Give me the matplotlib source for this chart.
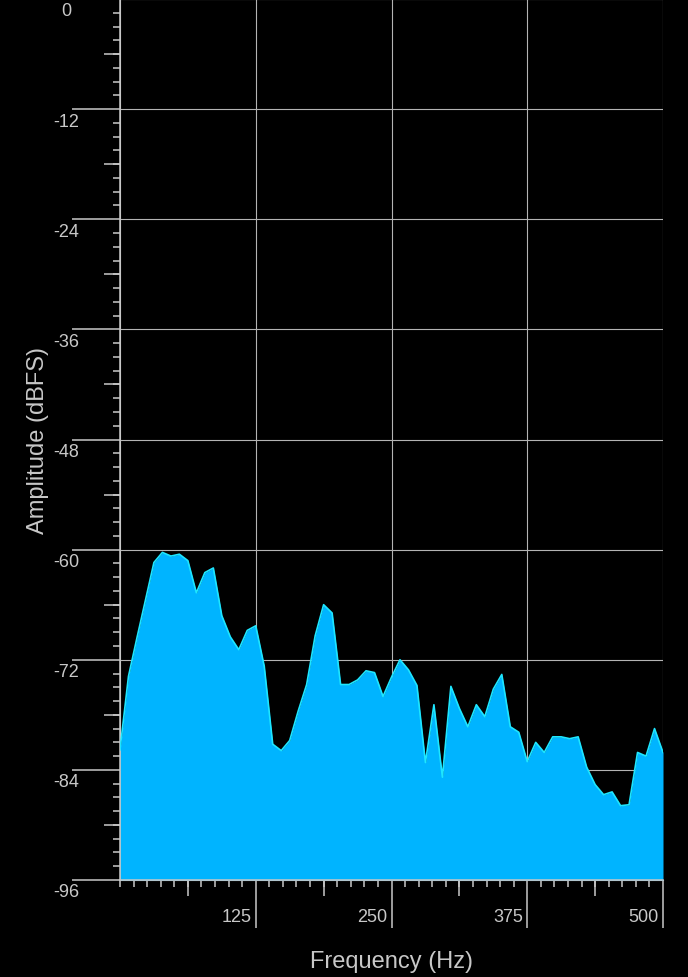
import matplotlib
matplotlib.use("Agg")
import matplotlib.pyplot as plt
import matplotlib.transforms as mtrans
from matplotlib.ticker import MultipleLocator, FixedLocator, NullLocator

# FFT bins, 8 kHz / 1024 points -> 7.8125 Hz per bin, 0..500 Hz
freq_hz = [0.0, 7.81, 15.63, 23.44, 31.25, 39.06, 46.88, 54.69, 62.5, 70.31,
           78.13, 85.94, 93.75, 101.56, 109.38, 117.19, 125.0, 132.81, 140.63, 148.44,
           156.25, 164.06, 171.88, 179.69, 187.5, 195.31, 203.13, 210.94, 218.75, 226.56,
           234.38, 242.19, 250.0, 257.81, 265.63, 273.44, 281.25, 289.06, 296.88, 304.69,
           312.5, 320.31, 328.13, 335.94, 343.75, 351.56, 359.38, 367.19, 375.0, 382.81,
           390.63, 398.44, 406.25, 414.06, 421.88, 429.69, 437.5, 445.31, 453.13, 460.94,
           468.75, 476.56, 484.38, 492.19, 500.0]

amplitude_db = [-81.8, -73.8, -69.6, -65.5, -61.4, -60.3, -60.7, -60.5, -61.2, -64.7,
                -62.5, -62.0, -67.2, -69.5, -70.9, -68.8, -68.3, -72.7, -81.2, -81.9,
                -80.8, -77.6, -74.7, -69.4, -66.0, -66.9, -74.7, -74.7, -74.2, -73.2,
                -73.4, -76.0, -73.9, -72.0, -73.1, -74.8, -83.2, -76.9, -84.8, -74.9,
                -77.3, -79.3, -76.9, -78.2, -75.2, -73.6, -79.3, -79.9, -83.1, -81.0,
                -82.1, -80.4, -80.4, -80.6, -80.4, -83.7, -85.6, -86.7, -86.4, -87.9,
                -87.8, -82.1, -82.5, -79.5, -82.1]

x_major = [125, 250, 375, 500]
x_mid = [62.5, 187.5, 312.5, 437.5]
y_mid = [-6, -18, -30, -42, -54, -66, -78, -90]

plt.rcParams['font.family'] = ['Liberation Sans', 'DejaVu Sans']
plt.rcParams['axes.unicode_minus'] = False

fg = '#c8c8c8'
W, H = 688, 978

fig = plt.figure(figsize=(W / 100, H / 100), dpi=100, facecolor='black')
ax = fig.add_axes([120 / W, 97 / H, 543 / W, 881 / H])
ax.set_facecolor('black')

ax.fill_between(freq_hz, amplitude_db, -96, color='#00b4ff', linewidth=0, zorder=2)
ax.plot(freq_hz, amplitude_db, color='#1ee6ff', lw=1.2, zorder=3)

ax.set_xlim(0, 500)
ax.set_ylim(-96, 0)
ax.xaxis.set_major_locator(FixedLocator(x_major))
ax.xaxis.set_minor_locator(MultipleLocator(12.5))
ax.yaxis.set_major_locator(MultipleLocator(12))
ax.yaxis.set_minor_locator(MultipleLocator(1.5))

ax.grid(True, which='major', color='#b4b4b4', lw=0.8)
ax.set_axisbelow(True)

for s in ['top', 'right']:
    ax.spines[s].set_visible(False)
for s in ['left', 'bottom']:
    ax.spines[s].set_color(fg)
    ax.spines[s].set_linewidth(1.1)

ax.tick_params(which='major', length=34.5, width=1.1, color=fg, labelcolor=fg,
               labelsize=13, pad=0)
ax.tick_params(which='minor', length=5, width=1.1, color=fg)

# medium ticks on helper axes
secx = ax.secondary_xaxis('bottom')
secx.set_xticks(x_mid)
secx.xaxis.set_minor_locator(NullLocator())
secx.tick_params(length=11.5, width=1.1, color=fg, labelbottom=False)
secx.spines['bottom'].set_color(fg)

secy = ax.secondary_yaxis('left')
secy.set_yticks(y_mid)
secy.yaxis.set_minor_locator(NullLocator())
secy.tick_params(length=11.5, width=1.1, color=fg, labelleft=False)
secy.spines['left'].set_color(fg)

ax.set_xticks(x_major)
ax.set_xticklabels([str(v) for v in x_major])
ax.set_yticks(list(range(-96, 1, 12)))
ax.set_yticklabels([str(v) for v in range(-96, 1, 12)])

xoff = mtrans.ScaledTranslation(-0.04, 0.20, fig.dpi_scale_trans)
for lab in ax.get_xticklabels():
    lab.set_ha('right')
    lab.set_transform(lab.get_transform() + xoff)

yoff = mtrans.ScaledTranslation(-0.06, -0.12, fig.dpi_scale_trans)
for lab in ax.get_yticklabels():
    lab.set_ha('center')
    lab.set_va('center')
    lab.set_transform(lab.get_transform() + yoff)

ax.set_xlabel('Frequency (Hz)', color=fg, fontsize=17, va='center')
ax.set_ylabel('Amplitude (dBFS)', color=fg, fontsize=17, va='center')
ax.xaxis.set_label_coords(0.5, (881 - 962) / 881)
ax.yaxis.set_label_coords((38 - 120) / 543, 0.5)

plt.savefig('out.png', dpi=100, facecolor='black')
